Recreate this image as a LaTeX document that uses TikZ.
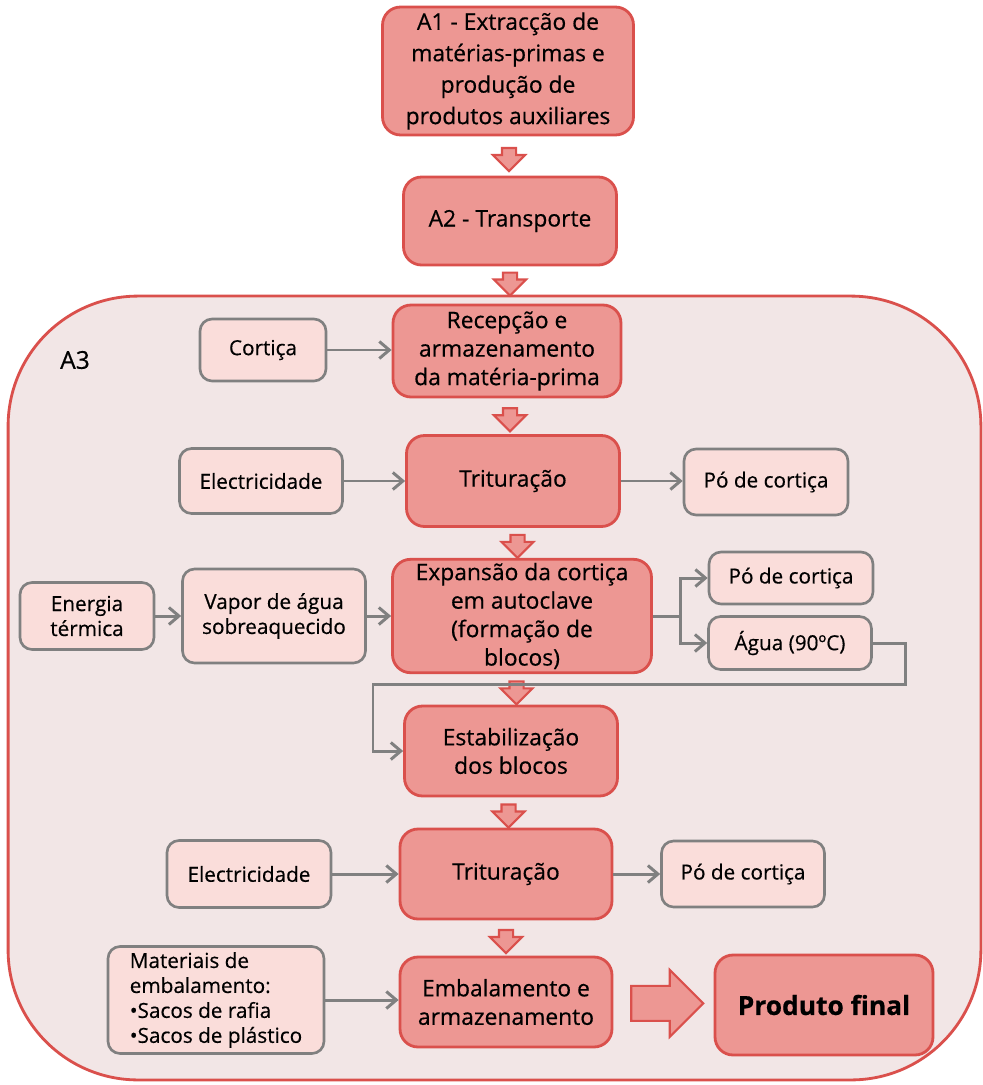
\documentclass[tikz,border=0pt]{standalone}
\usepackage{fontspec}
\setmainfont{Open Sans}[FakeBold=0.5]
\usetikzlibrary{arrows.meta,positioning,shapes.arrows,calc}
\definecolor{boxred}{RGB}{218,80,76}
\definecolor{boxfill}{RGB}{237,151,147}
\definecolor{infill}{RGB}{250,221,218}
\definecolor{areafill}{RGB}{242,230,230}
\definecolor{linegrey}{RGB}{128,128,128}
\newcommand{\mainsize}{\fontsize{13}{16.2}\selectfont}
\newcommand{\smallsize}{\fontsize{11.8}{14.2}\selectfont}

\begin{document}
\begin{tikzpicture}[x=0.02cm,y=-0.02cm,
      stage/.style={draw=boxred,fill=boxfill,line width=1.6pt,rounded corners=0.36cm,
                    align=center,font=\mainsize,inner sep=2pt},
      flow/.style={draw=linegrey,fill=infill,line width=1.5pt,rounded corners=0.24cm,
                   align=center,font=\smallsize,inner sep=2pt},
      area/.style={draw=boxred,fill=areafill,line width=1.6pt,rounded corners=2.6cm},
      hollow/.style={single arrow,draw=boxred,fill=boxfill,line width=1.2pt,
                     minimum height=0.46cm,minimum width=0.6cm,inner sep=0.12cm,
                     single arrow head extend=0.18cm,shape border rotate=270},
      link/.style={draw=linegrey,line width=1.7pt,-{Straight Barb[length=0.2cm,width=0.34cm]}},
    ]
    \useasboundingbox (0,0) rectangle (983,1085);

    % A3 area
    \node[area,minimum width=19.46cm,minimum height=15.68cm] (a3) at (494.5,688) {};
    \node[font=\fontsize{14}{17}\selectfont] (a3lbl) at (75,360) {A3};

    % Main stages
    \node[stage,minimum width=5.02cm,minimum height=2.56cm,
          font=\fontsize{13}{17.9}\selectfont] (a1) at (508,71)
      {A1 - Extracção de\\matérias-primas e\\produção de\\produtos auxiliares};
    \node[stage,minimum width=4.26cm,minimum height=1.76cm] (a2) at (510,221) {A2 - Transporte};
    \node[stage,minimum width=4.56cm,minimum height=1.84cm] (rec) at (507,351)
      {Recepção e\\armazenamento\\da matéria-prima};
    \node[stage,minimum width=4.26cm,minimum height=1.82cm] (trit1) at (513,481) {Trituração};
    \node[stage,minimum width=5.18cm,minimum height=2.26cm] (exp) at (522,616)
      {Expansão da cortiça\\em autoclave\\(formação de\\blocos)};
    \node[stage,minimum width=4.26cm,minimum height=1.80cm] (estab) at (511,751)
      {Estabilização\\dos blocos};
    \node[stage,minimum width=4.24cm,minimum height=1.80cm] (trit2) at (506,874) {Trituração};
    \node[stage,minimum width=4.24cm,minimum height=1.80cm] (emb) at (506,1002)
      {Embalamento e\\armazenamento};
    \node[stage,minimum width=4.36cm,minimum height=2.0cm,
          font=\fontsize{15}{18}\selectfont\bfseries] (prod) at (824,1005) {Produto final};

    % Inputs and outputs
    \node[flow,minimum width=2.52cm,minimum height=1.24cm] (cort) at (263,350) {Cortiça};
    \node[flow,minimum width=3.26cm,minimum height=1.30cm] (elec1) at (261,481) {Electricidade};
    \node[flow,minimum width=3.28cm,minimum height=1.32cm] (po1) at (766,482) {Pó de cortiça};
    \node[flow,minimum width=2.68cm,minimum height=1.34cm] (ener) at (87,616) {Energia\\térmica};
    \node[flow,minimum width=3.66cm,minimum height=1.88cm] (vapor) at (274,616)
      {Vapor de água\\sobreaquecido};
    \node[flow,minimum width=3.28cm,minimum height=1.04cm] (po2) at (791,578) {Pó de cortiça};
    \node[flow,minimum width=3.26cm,minimum height=1.06cm] (agua) at (790,643) {Água (90ºC)};
    \node[flow,minimum width=3.28cm,minimum height=1.34cm] (elec2) at (249,874) {Electricidade};
    \node[flow,minimum width=3.26cm,minimum height=1.32cm] (po3) at (743,874) {Pó de cortiça};
    \node[flow,align=left,minimum width=4.32cm,minimum height=2.14cm] (mat) at (216,1000)
      {Materiais de\\embalamento:\\•Sacos de rafia\\•Sacos de plástico};

    % Block arrows between stages
    \node[hollow] (h1) at ($(a1.south)!0.5!(a2.north)$) {};
    \node[hollow] (h2) at ($(a2.south)!0.5!(a2.south |- a3.north)$) {};
    \node[hollow] (h3) at ($(rec.south)!0.5!(trit1.north)$) {};
    \node[hollow] (h4) at ($(trit1.south)!0.5!(exp.north)$) {};
    \node[hollow] (h5) at ($(exp.south)!0.5!(estab.north)$) {};
    \node[hollow] (h6) at ($(estab.south)!0.5!(trit2.north)$) {};
    \node[hollow] (h7) at ($(trit2.south)!0.5!(emb.north)$) {};
    \node[hollow,shape border rotate=0,minimum height=1.44cm,minimum width=1.3cm,
          inner sep=0.33cm,single arrow head extend=0.32cm] (big)
      at ($(emb.east)!0.45!(prod.west)$) {};

    % Grey connectors
    \foreach \s/\t in {cort/rec,elec1/trit1,trit1/po1,ener/vapor,vapor/exp,
                       elec2/trit2,trit2/po3,mat/emb}
      \draw[link] (\s.east) -- (\s.east -| \t.west);
    \draw[link] (exp.east) -- ++(28,0) |- (po2.west);
    \draw[link] (exp.east) -- ++(28,0) |- (agua.west);
    \coordinate (back) at (373,684);
    \draw[link] (agua.east) -- ++(33,0) |- (back) |- (estab.west);

  \end{tikzpicture}
\end{document}
